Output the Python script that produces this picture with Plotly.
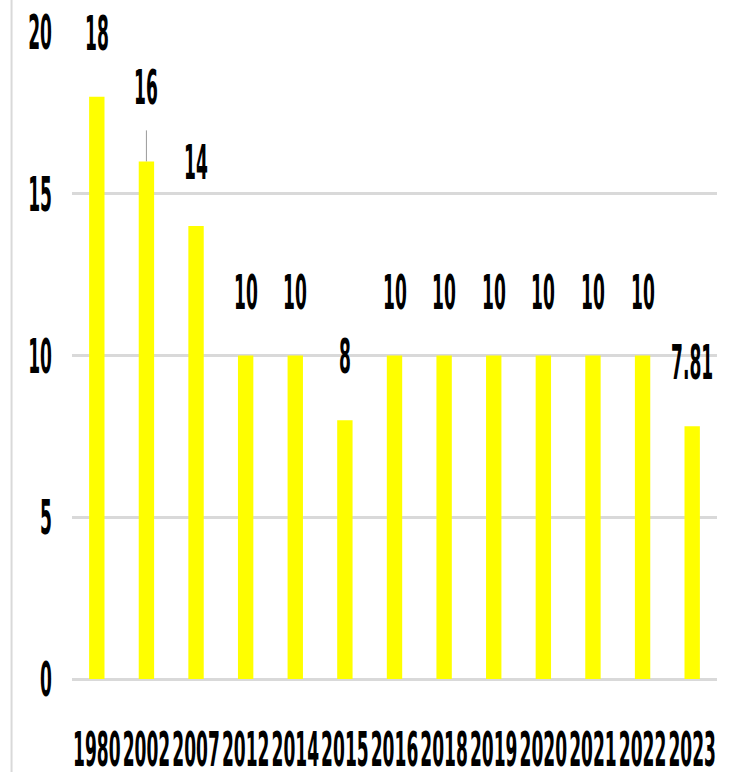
import plotly.graph_objects as go

years = ["1980", "2002", "2007", "2012", "2014", "2015", "2016", "2018", "2019", "2020", "2021", "2022", "2023"]
values = [18, 16, 14, 10, 10, 8, 10, 10, 10, 10, 10, 10, 7.81]
labels = ["18", "16", "14", "10", "10", "8", "10", "10", "10", "10", "10", "10", "7.81"]
y_ticks = [0, 5, 10, 15, 20]

FONT = "DejaVu Sans Condensed, DejaVu Sans, sans-serif"
TXT = dict(family=FONT, size=19, color="#000000", weight="bold")

fig = go.Figure()
fig.add_trace(go.Bar(x=years, y=values, marker=dict(color="#FFFF00", line=dict(width=0)),
                     hoverinfo="x+y"))

fig.update_layout(
    width=735, height=772,
    margin=dict(l=72, r=18, t=32, b=93, autoexpand=False),
    plot_bgcolor="white", paper_bgcolor="white",
    bargap=0.69, showlegend=False,
    font=TXT,
)
fig.update_xaxes(type="category", categoryorder="array", categoryarray=years,
                 range=[-0.5, len(years) - 0.5], automargin=False, tickangle=0,
                 showgrid=False, showline=False, ticks="", ticklabelstandoff=57,
                 tickfont=TXT)
fig.update_yaxes(range=[0, 20], tickvals=y_ticks, showgrid=True, gridcolor="#D9D9D9", gridwidth=3,
                 zeroline=True, zerolinecolor="#D9D9D9", zerolinewidth=3, showline=False, ticks="",
                 automargin=False, ticklabelstandoff=19, tickfont=TXT)

# value labels (category index used as x on the category axis)
for i, (v, lab) in enumerate(zip(values, labels)):
    fig.add_annotation(x=i, y=v, xref="x", yref="y", text=lab, showarrow=False,
                       yshift=74 if i == 1 else 64, font=TXT)

# leader line for the 2002 label
fig.add_shape(type="line", xref="x", yref="y", x0=1, x1=1,
              ysizemode="pixel", yanchor=values[1], y0=0, y1=31,
              line=dict(color="#999999", width=1))

# left border line
fig.add_shape(type="line", xref="paper", yref="paper", x0=-0.0937, x1=-0.0937, y0=-0.2, y1=1.1,
              line=dict(color="#D9D9D9", width=2))

# tall, narrow lettering like the reference: stretch each text vertically about its centre
post = """
document.body.style.margin = '0';
document.documentElement.style.margin = '0';
var gd = document.getElementById('{plot_id}');
var K = 2.5;
gd.querySelectorAll('g.xtick text, g.ytick text, text.annotation-text').forEach(function(t){
  var b = t.getBBox();
  var cy = b.y + b.height / 2;
  var tr = t.getAttribute('transform') || '';
  t.setAttribute('transform', tr + ' translate(0,' + cy + ') scale(1,' + K + ') translate(0,' + (-cy) + ')');
});
"""

fig.write_html("out.html", post_script=post, config={"displayModeBar": False})
